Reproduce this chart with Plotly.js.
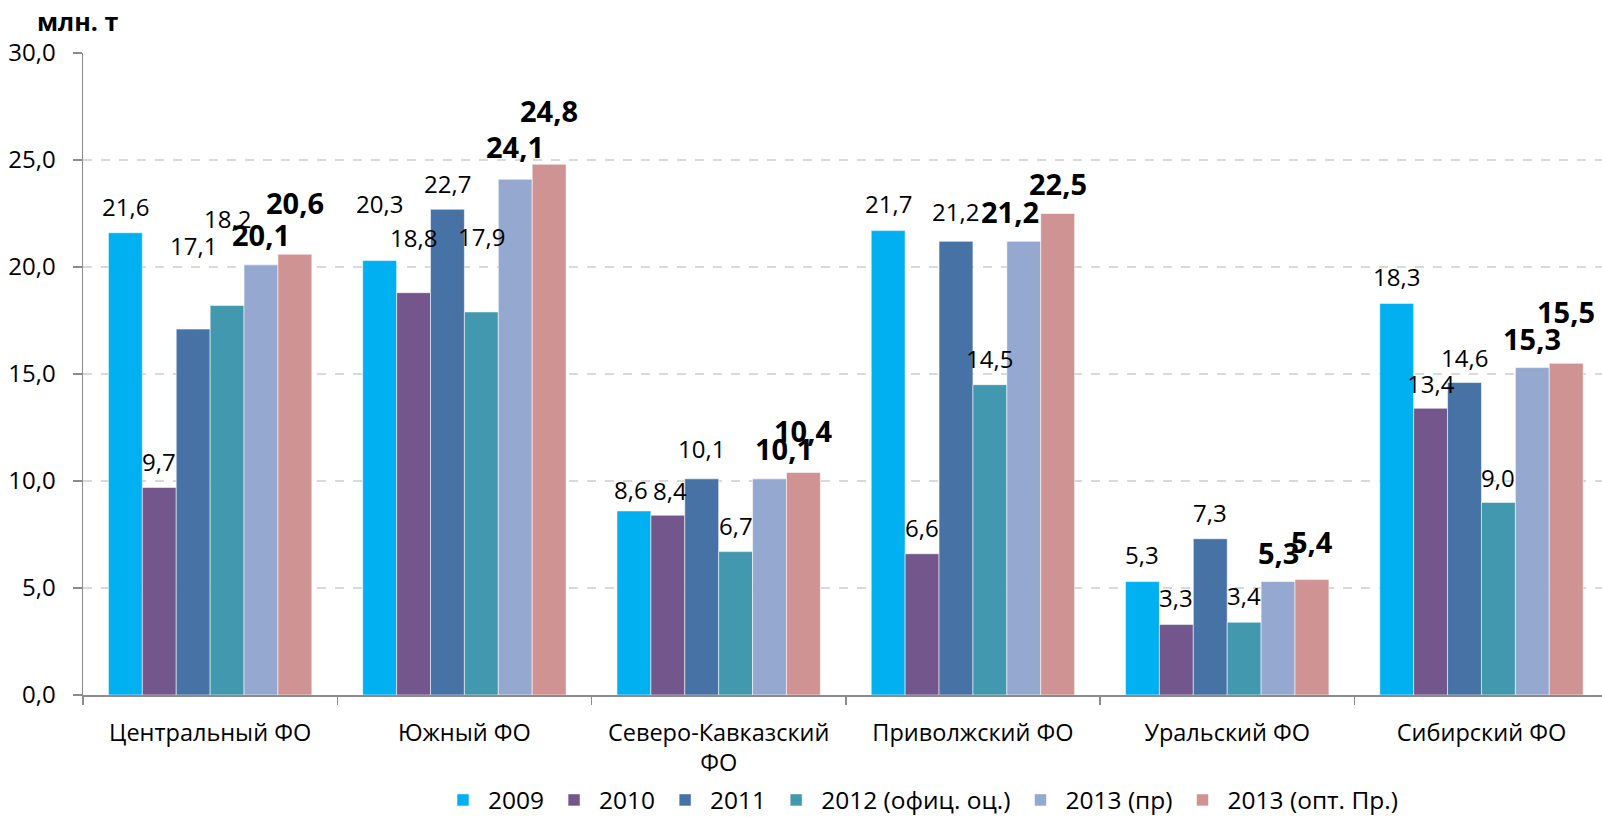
<!DOCTYPE html>
<html>
<head>
<meta charset="utf-8">
<script src="https://cdn.plot.ly/plotly-3.0.1.min.js"></script>
<style>html,body{margin:0;padding:0;background:#fff;}#chart{width:1602px;height:817px;}</style>
</head>
<body>
<div id="chart"></div>
<script>
// ---- data ----
const categories = ["Центральный ФО", "Южный ФО", "Северо-Кавказский<br>ФО", "Приволжский ФО", "Уральский ФО", "Сибирский ФО"];
const seriesNames = ["2009", "2010", "2011", "2012 (офиц. оц.)", "2013 (пр)", "2013 (опт. Пр.)"];
const v2009 = [21.6, 20.3, 8.6, 21.7, 5.3, 18.3];
const v2010 = [9.7, 18.8, 8.4, 6.6, 3.3, 13.4];
const v2011 = [17.1, 22.7, 10.1, 21.2, 7.3, 14.6];
const v2012 = [18.2, 17.9, 6.7, 14.5, 3.4, 9.0];
const v2013pr = [20.1, 24.1, 10.1, 21.2, 5.3, 15.3];
const v2013opt = [20.6, 24.8, 10.4, 22.5, 5.4, 15.5];
const yTicks = [0, 5, 10, 15, 20, 25, 30];

// ---- styling ----
const allValues = [v2009, v2010, v2011, v2012, v2013pr, v2013opt];
const colors = ["#00B0F0", "#73578C", "#4672A5", "#4198AF", "#95A8CF", "#D09393"];
const FONT = "Open Sans, Noto Sans, sans-serif";
const bargap = 0.2;
// label lift above bar top (px) and horizontal nudge (px), per series / category
const labelLift = [
  [26, 57, 21, 27, 27, 27],
  [26, 55, 25, 26, 27, 25],
  [84, 26, 30, 30, 26, 25],
  [87, 75, 26, 26, 27, 25],
  [30, 33, 30, 30, 29, 29],
  [52, 54, 42, 30, 38, 52]
];
const labelNudge = [
  [0,0,-3,0,0,0],[0,0,2,0,0,0],[0,0,0,0,0,0],[0,0,0,0,0,0],
  [0,0,14,-14,0,0],
  [0,0,0,0,0,0]
];

const idx = categories.map((c, i) => i);
const traces = allValues.map((vals, j) => ({
  type: "bar",
  name: seriesNames[j],
  x: idx,
  y: vals,
  marker: {color: colors[j], line: {color: "rgba(255,255,255,0.55)", width: 1}},
  hoverinfo: "skip"
}));

const groupW = 1 - bargap;
const barW = groupW / allValues.length;
const annotations = [];
allValues.forEach((vals, j) => {
  const bold = j >= 4;
  vals.forEach((v, i) => {
    annotations.push({
      x: i - groupW / 2 + (j + 0.5) * barW,
      y: v,
      xref: "x", yref: "y",
      text: bold ? "<b>" + v.toFixed(1).replace(".", ",") + "</b>" : v.toFixed(1).replace(".", ","),
      showarrow: false,
      yanchor: "middle",
      xanchor: "center",
      yshift: labelLift[j][i],
      xshift: labelNudge[j][i],
      font: {family: FONT, size: bold ? 29 : 24, color: "#000"}
    });
  });
});

const layout = {
  width: 1602, height: 817,
  margin: {l: 83, r: 0, t: 53, b: 122, pad: 0},
  paper_bgcolor: "#fff", plot_bgcolor: "#fff",
  separators: ", ",
  barmode: "group",
  bargap: bargap,
  bargroupgap: 0,
  font: {family: FONT, size: 22, color: "#000"},
  title: {
    text: "<b>млн. т</b>",
    font: {family: FONT, size: 25, color: "#000"},
    x: 37 / 1602, xanchor: "left", xref: "container",
    y: 1 - 22 / 817, yanchor: "middle", yref: "container",
    pad: {l: 0, r: 0, t: 0, b: 0}
  },
  xaxis: {
    type: "linear",
    range: [-0.5, 5.474],
    tickvals: idx,
    ticktext: categories,
    showgrid: false,
    zeroline: false,
    showline: true, linecolor: "#8C8C8C", linewidth: 1.5,
    ticks: "",
    ticklabelstandoff: 16,
    tickfont: {family: FONT, size: 23.5, color: "#000"},
    fixedrange: true
  },
  xaxis2: {
    overlaying: "x",
    type: "linear",
    range: [-0.5, 5.474],
    tickvals: [-0.5, 0.5, 1.5, 2.5, 3.5, 4.5],
    showticklabels: false,
    ticks: "outside", ticklen: 9, tickwidth: 1.5, tickcolor: "#8C8C8C",
    showgrid: false, zeroline: false, showline: false
  },
  yaxis: {
    range: [0, 30],
    tickvals: yTicks,
    tickformat: ".1f",
    showgrid: true, gridcolor: "#D9D9D9", gridwidth: 1.5, griddash: "dash",
    zeroline: false,
    showline: true, linecolor: "#8C8C8C", linewidth: 1.5,
    ticks: "outside", ticklen: 9, tickwidth: 1.5, tickcolor: "#8C8C8C",
    ticklabelstandoff: 12,
    tickfont: {family: FONT, size: 24, color: "#000"},
    fixedrange: true
  },
  legend: {
    orientation: "h",
    x: 438 / 1602, xanchor: "left", xref: "container",
    y: 1 - 800 / 817, yanchor: "middle", yref: "container",
    itemwidth: 40,
    font: {family: FONT, size: 24.5, color: "#000"},
    traceorder: "normal",
    itemclick: false, itemdoubleclick: false
  },
  showlegend: true,
  annotations: annotations
};

// invisible helper trace that carries the category-boundary tick axis
traces.push({type: "scatter", x: [0], y: [0], xaxis: "x2", mode: "markers", marker: {opacity: 0}, showlegend: false, hoverinfo: "skip"});

Plotly.newPlot("chart", traces, layout, {displayModeBar: false, staticPlot: true});
</script>
</body>
</html>
